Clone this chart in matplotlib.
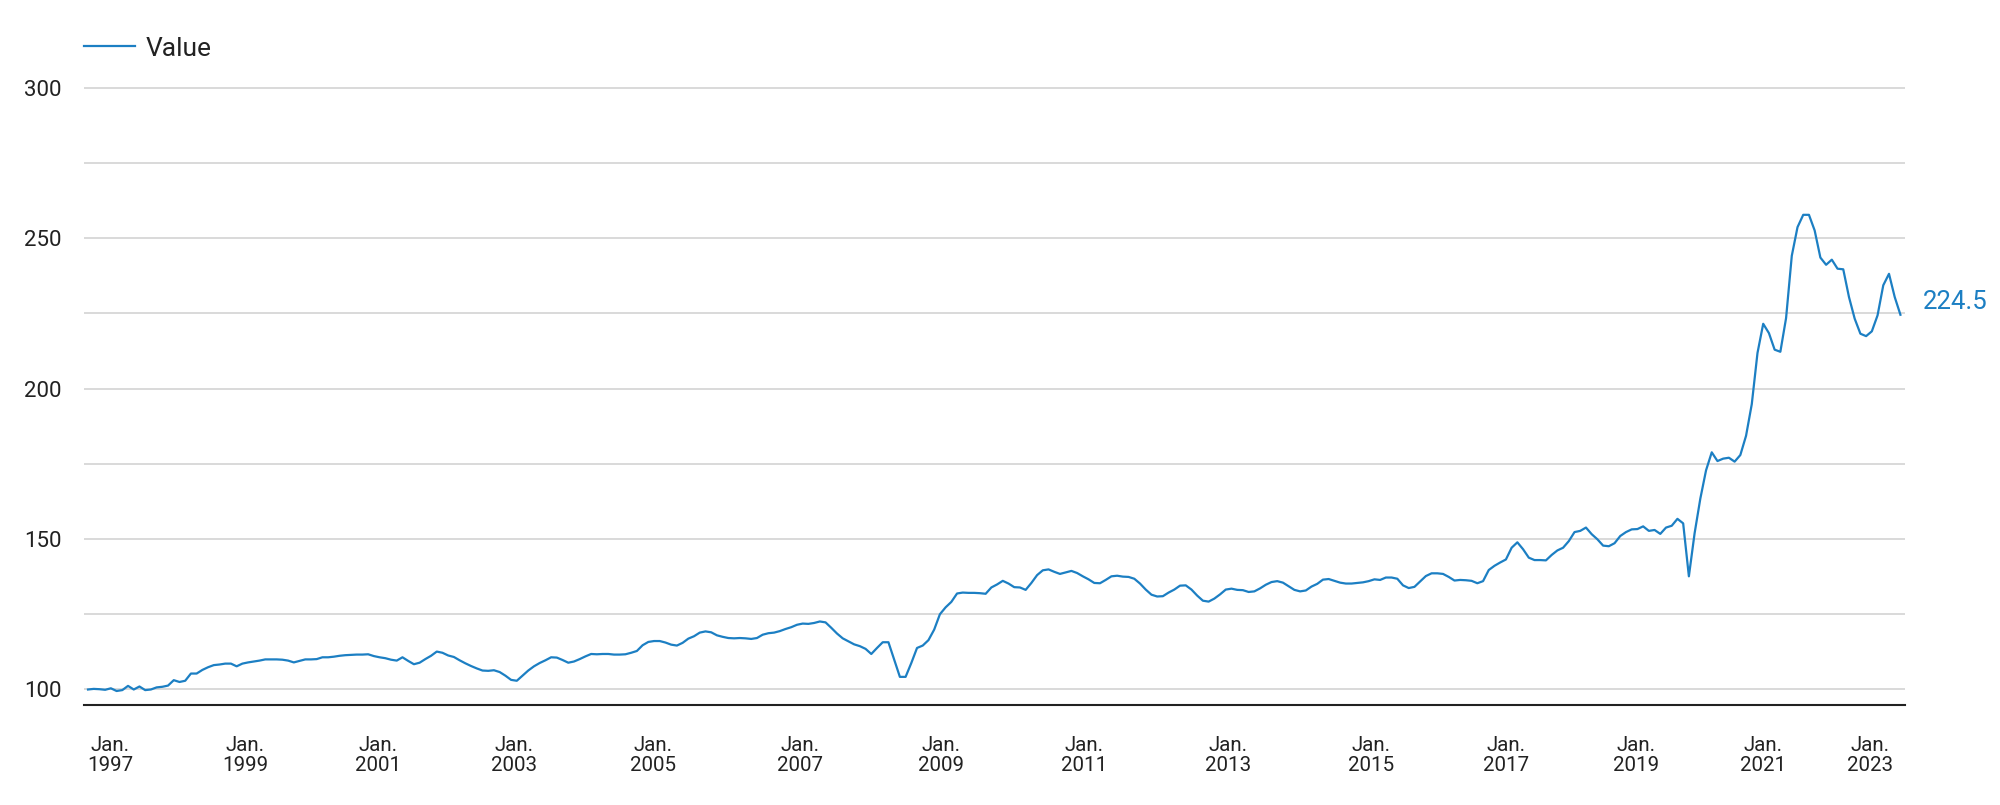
import matplotlib
matplotlib.use("Agg")
import matplotlib.pyplot as plt
from matplotlib.ticker import MultipleLocator, FixedLocator, FixedFormatter

plt.rcParams['font.family'] = ['Roboto', 'DejaVu Sans']

# monthly index values, Jan 1997 .. Jun 2023
values = [
    100.0, 100.2, 100.1, 99.9, 100.4, 99.5, 99.8, 101.2, 100.0, 101.0,
    99.8, 100.0, 100.7, 100.9, 101.3, 103.1, 102.5, 102.9, 105.3, 105.3,
    106.5, 107.4, 108.1, 108.3, 108.6, 108.6, 107.7, 108.6, 109.0, 109.3,
    109.6, 110.0, 110.0, 110.0, 109.9, 109.6, 109.0, 109.5, 110.0, 110.0,
    110.1, 110.7, 110.7, 110.9, 111.2, 111.4, 111.5, 111.6, 111.6, 111.7,
    111.1, 110.7, 110.4, 109.9, 109.6, 110.7, 109.5, 108.4, 108.9, 110.1,
    111.2, 112.6, 112.2, 111.3, 110.8, 109.7, 108.7, 107.8, 107.0,
    106.3, 106.2, 106.4, 105.8, 104.6, 103.2, 102.9, 104.6, 106.3, 107.7,
    108.8, 109.7, 110.7, 110.6, 109.8, 108.9, 109.3, 110.1, 111.0, 111.8,
    111.7, 111.8, 111.8, 111.6, 111.6, 111.7, 112.2, 112.8, 114.7, 115.8,
    116.1, 116.1, 115.6, 114.9, 114.6, 115.5, 116.9, 117.7, 118.9, 119.3,
    119.0, 118.0, 117.5, 117.1, 117.0, 117.1, 117.0, 116.8, 117.1, 118.2,
    118.7, 118.9, 119.4, 120.1, 120.7, 121.5, 121.9, 121.8, 122.1, 122.6,
    122.3, 120.5, 118.6, 117.0, 116.0, 115.0, 114.4, 113.5,
    111.8, 113.8, 115.7, 115.7, 109.9, 104.2, 104.2, 108.8, 113.8, 114.6,
    116.4, 119.9,
    125.0, 127.3, 129.1, 131.9, 132.2, 132.1, 132.1, 132.0, 131.8, 133.9,
    134.9, 136.1, 135.2, 134.0, 133.9, 133.1, 135.4, 138.0, 139.6, 139.9,
    139.1, 138.4, 138.9, 139.4, 138.7, 137.6, 136.6, 135.4, 135.3, 136.4,
    137.6, 137.8, 137.5, 137.4, 136.8, 135.2, 133.2, 131.5, 130.9, 131.0,
    132.2, 133.2, 134.5, 134.6, 133.2, 131.2, 129.5, 129.2, 130.2, 131.6,
    133.2, 133.5, 133.1, 133.0, 132.4, 132.6, 133.6, 134.8, 135.7, 136.0,
    135.5, 134.3, 133.1, 132.6, 132.9, 134.2, 135.1, 136.5, 136.7, 136.1,
    135.5, 135.2, 135.2, 135.4, 135.6, 136.0, 136.6, 136.4, 137.2,
    137.2, 136.8, 134.6, 133.7, 134.1, 135.9, 137.7, 138.6, 138.6, 138.4,
    137.4, 136.2, 136.4, 136.3, 136.1, 135.3, 136.0, 139.7, 141.1, 142.2,
    143.2, 147.1, 148.9, 146.6, 143.8, 143.0, 143.0, 142.9, 144.7, 146.2,
    147.1, 149.3, 152.3, 152.7, 153.8, 151.6, 149.9, 147.8, 147.6, 148.6,
    151.0, 152.3, 153.2, 153.3, 154.2, 152.7, 153.0, 151.7, 153.8, 154.4,
    156.7, 155.2,
    137.6, 151.9, 163.4, 172.8, 178.8, 175.9, 176.7, 177.0, 175.7, 177.9,
    184.3, 194.8, 211.8, 221.5, 218.4, 212.9, 212.2, 223.4, 244.1, 253.6,
    257.7, 257.7,
    252.5, 243.5, 241.1, 242.8, 239.8, 239.6, 230.4, 223.2, 218.2, 217.4,
    219.0, 224.3, 234.3, 238.1, 230.4, 224.5,
]
months = list(range(len(values)))

tick_labels = ["Jan.\n1997", "Jan.\n1999", "Jan.\n2001", "Jan.\n2003", "Jan.\n2005",
               "Jan.\n2007", "Jan.\n2009", "Jan.\n2011", "Jan.\n2013", "Jan.\n2015",
               "Jan.\n2017", "Jan.\n2019", "Jan.\n2021", "Jan.\n2023"]
# where the labels sit on the month axis in the original
tick_pos = [3.85, 27.47, 50.65, 74.53, 98.85, 124.56, 149.23, 174.25,
            199.44, 224.37, 248.08, 270.73, 293.04, 311.67]

series_name = "Value"
blue = '#1c7fc3'
text_col = '#222222'

fig = plt.figure(figsize=(20, 8.05), dpi=100)
ax = fig.add_axes([84 / 2000, 1 - 705 / 805, (1905 - 84) / 2000, (705 - 86) / 805])

ax.plot(months, values, color=blue, lw=1.6, label=series_name, zorder=3)

ax.set_xlim(-0.7, len(values) - 1 + 0.8)
ax.set_ylim(94.85, 300.5)

ax.yaxis.set_major_locator(MultipleLocator(50))
ax.yaxis.set_minor_locator(MultipleLocator(25))
ax.grid(axis='y', which='both', color='#cfcfcf', lw=1.1, zorder=0)
ax.set_axisbelow(True)

ax.xaxis.set_major_locator(FixedLocator(tick_pos))
ax.xaxis.set_major_formatter(FixedFormatter(tick_labels))

ax.tick_params(axis='y', which='both', length=0, pad=16, labelsize=16, labelcolor=text_col)
ax.tick_params(axis='x', length=0, pad=22, labelsize=14.8, labelcolor=text_col)
for lab in ax.get_xticklabels():
    lab.set_linespacing(1.1)
    lab.set_multialignment('center')

for s in ['top', 'right', 'left']:
    ax.spines[s].set_visible(False)
ax.spines['bottom'].set_color('#222222')
ax.spines['bottom'].set_linewidth(1.5)

# end-of-line value label
ax.annotate(f"{values[-1]}", xy=(months[-1], values[-1]), xytext=(16, 9),
            textcoords='offset points', ha='left', va='center',
            fontsize=18.5, color=blue)

ax.legend(loc='center left', bbox_to_anchor=(84 / 2000, 1 - 48.5 / 805),
          bbox_transform=fig.transFigure, frameon=False, fontsize=19,
          handlelength=1.95, handletextpad=0.4, borderpad=0, borderaxespad=0,
          labelcolor=text_col)

fig.savefig('out.png', dpi=100, facecolor='white')
